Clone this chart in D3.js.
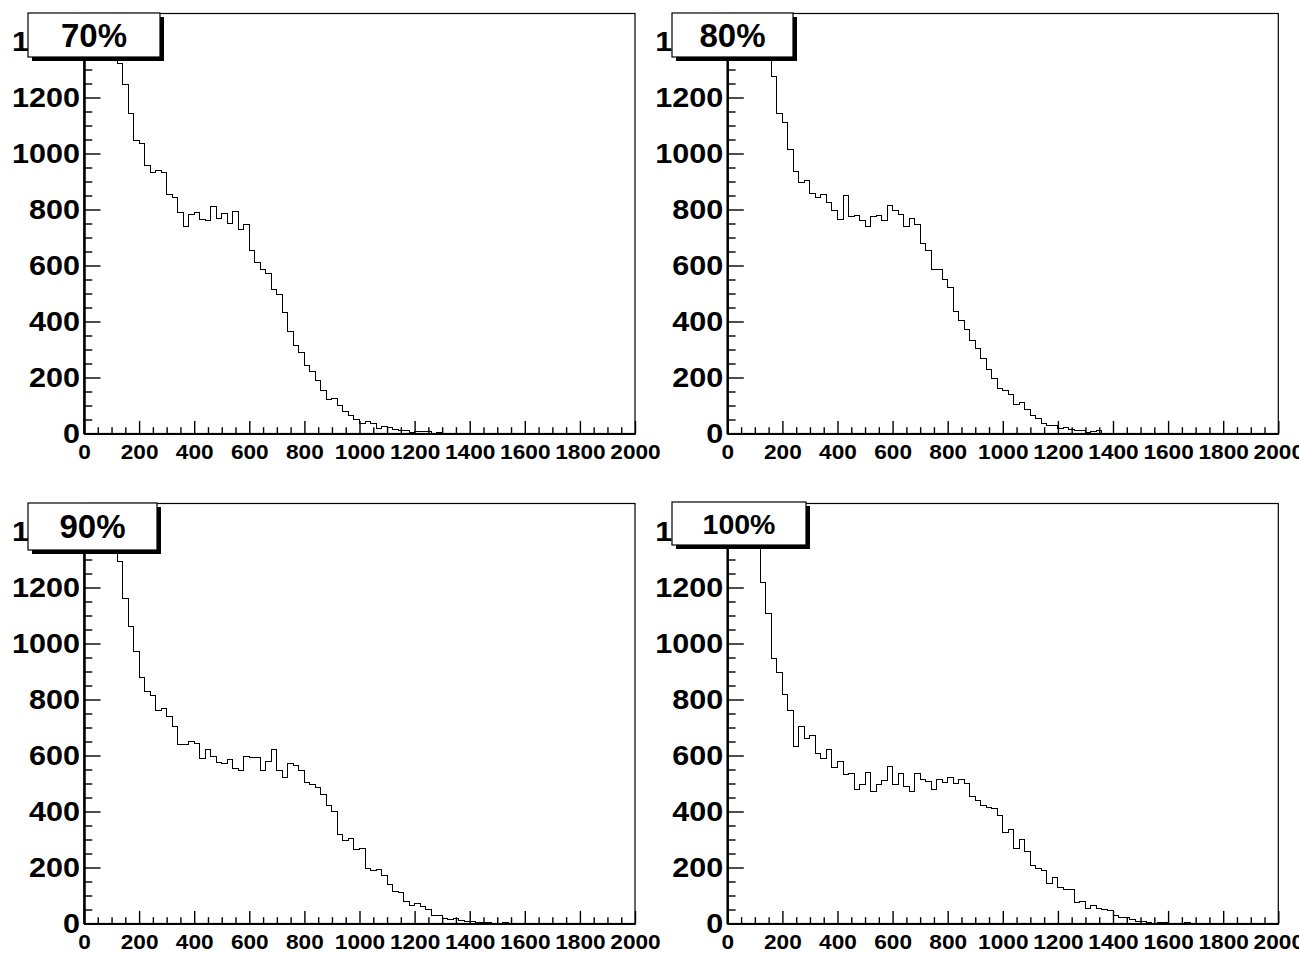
<!DOCTYPE html>
<html>
<head>
<meta charset="utf-8">
<script src="https://cdn.jsdelivr.net/npm/d3@7/dist/d3.min.js"></script>
<style>
  html, body { margin: 0; padding: 0; background: #fff; }
  svg { display: block; }
  text { font-family: "Liberation Sans", Arial, Helvetica, sans-serif; font-weight: bold; fill: #000; }
</style>
</head>
<body>
<svg id="canvas" width="1299" height="953"></svg>
<script>
// Histogram binning: 100 bins of width 20 between 0 and 2000
const binEdges = d3.range(0, 2001, 20);
const xMajorTicks = [0, 200, 400, 600, 800, 1000, 1200, 1400, 1600, 1800, 2000];
const yMajorTicks = [0, 200, 400, 600, 800, 1000, 1200, 1400];
const yRange = [0, 1500];

const titles = ["70%", "80%", "90%", "100%"];

// Bin contents, one list per threshold
const counts70 = [
  1820, 2240, 2150, 1930, 1710, 1540, 1322, 1247, 1143, 1046,
  1036, 956, 931, 941, 931, 852, 842, 790, 741, 782,
  788, 766, 762, 810, 768, 786, 750, 792, 727, 747,
  653, 611, 584, 570, 516, 495, 433, 364, 313, 291,
  242, 221, 191, 155, 120, 126, 99, 80, 66, 51,
  34, 42, 36, 19, 24, 22, 15, 10, 12, 4,
  7, 7, 7, 0, 4, 0, 0, 0, 0, 0,
  0, 0, 0, 0, 0, 0, 0, 0, 0, 0,
  0, 0, 0, 0, 0, 0, 0, 0, 0, 0,
  0, 0, 0, 0, 0, 0, 0, 0, 0, 0
];
const counts80 = [
  2050, 2480, 2390, 2160, 1950, 1760, 1590, 1420, 1274, 1143,
  1110, 1016, 935, 897, 905, 858, 842, 854, 826, 795,
  766, 849, 774, 780, 762, 739, 774, 780, 762, 814,
  795, 782, 741, 767, 745, 679, 655, 584, 586, 551,
  522, 437, 405, 373, 332, 302, 268, 227, 195, 159,
  152, 140, 104, 110, 84, 66, 52, 34, 30, 27,
  18, 22, 15, 10, 12, 4, 7, 10, 0, 0,
  0, 0, 0, 0, 0, 0, 0, 0, 0, 0,
  0, 0, 0, 0, 0, 0, 0, 0, 0, 0,
  0, 0, 0, 0, 0, 0, 0, 0, 0, 0
];
const counts90 = [
  1880, 2310, 2200, 1990, 1760, 1560, 1292, 1159, 1060, 973,
  878, 830, 816, 762, 768, 741, 703, 641, 638, 649,
  644, 588, 620, 596, 574, 570, 586, 554, 545, 598,
  592, 592, 548, 578, 620, 545, 521, 572, 563, 548,
  503, 498, 486, 459, 423, 399, 318, 298, 304, 263,
  268, 197, 189, 193, 171, 141, 114, 110, 78, 66,
  72, 60, 51, 27, 27, 19, 16, 17, 12, 6,
  6, 4, 4, 3, 1, 1, 3, 1, 0, 0,
  0, 0, 0, 0, 0, 0, 0, 0, 0, 0,
  0, 0, 0, 0, 0, 0, 0, 0, 0, 0
];
const counts100 = [
  1960, 2420, 2330, 2070, 1790, 1530, 1217, 1108, 947, 897,
  818, 762, 631, 703, 661, 673, 608, 590, 620, 556,
  578, 533, 536, 477, 495, 540, 471, 495, 509, 560,
  495, 536, 489, 471, 536, 514, 508, 477, 515, 503,
  522, 501, 516, 501, 453, 439, 421, 413, 409, 385,
  326, 334, 268, 301, 257, 207, 197, 191, 143, 164,
  129, 120, 123, 76, 78, 54, 63, 52, 51, 46,
  30, 21, 22, 16, 6, 6, 4, 1, 3, 3,
  1, 1, 1, 3, 1, 0, 0, 0, 0, 0,
  0, 0, 0, 0, 0, 0, 0, 0, 0, 0
];

const seriesList = [counts70, counts80, counts90, counts100];

// Pad layout (frame box and title box for each of the 2x2 pads)
const pads = [
  { fx: 84,    fy: 13.5,  box: { x: 28,  y: 13,  w: 132, h: 44 }, fs: 33 },
  { fx: 727.3, fy: 13.5,  box: { x: 672, y: 13,  w: 121, h: 44 }, fs: 33 },
  { fx: 84,    fy: 503.5, box: { x: 28,  y: 503, w: 129, h: 47 }, fs: 33 },
  { fx: 727.3, fy: 503.5, box: { x: 672, y: 502, w: 134, h: 43 }, fs: 28.5 }
];
const frameW = 551, frameH = 420;
const plain = d3.format("d");

const svg = d3.select("#canvas");
svg.append("rect").attr("width", 1299).attr("height", 953).attr("fill", "#fff");

pads.forEach((p, i) => {
  const counts = seriesList[i];
  const x = d3.scaleLinear().domain([binEdges[0], binEdges[binEdges.length - 1]]).range([0, frameW]);
  const y = d3.scaleLinear().domain(yRange).range([frameH, 0]);

  const g = svg.append("g").attr("transform", `translate(${p.fx},${p.fy})`);

  const clipId = "frameclip" + i;
  g.append("clipPath").attr("id", clipId)
    .append("rect").attr("x", 0).attr("y", 0).attr("width", frameW).attr("height", frameH);

  // Step outline of the histogram
  const path = d3.path();
  path.moveTo(x(binEdges[0]), y(0));
  counts.forEach((c, k) => {
    path.lineTo(x(binEdges[k]), y(c));
    path.lineTo(x(binEdges[k + 1]), y(c));
  });
  path.lineTo(x(binEdges[binEdges.length - 1]), y(0));

  g.append("path")
    .attr("d", path.toString())
    .attr("clip-path", `url(#${clipId})`)
    .attr("fill", "none")
    .attr("stroke", "#000")
    .attr("stroke-width", 1)
    .attr("shape-rendering", "crispEdges");

  // Frame
  g.append("rect")
    .attr("x", 0).attr("y", 0).attr("width", frameW).attr("height", frameH)
    .attr("fill", "none").attr("stroke", "#000").attr("stroke-width", 1.2);

  // X axis: minor ticks every 50, major every 200
  const xMinor = d3.range(0, 2001, 50).filter(v => v % 200 !== 0);
  const xAxisMinor = d3.axisBottom(x).tickValues(xMinor).tickSize(-6.3).tickSizeOuter(0).tickFormat("");
  const xAxisMajor = d3.axisBottom(x).tickValues(xMajorTicks).tickSize(-12.6).tickSizeOuter(0)
    .tickPadding(11).tickFormat(plain);
  const gxMinor = g.append("g").attr("transform", `translate(0,${frameH})`).call(xAxisMinor);
  const gx = g.append("g").attr("transform", `translate(0,${frameH})`).call(xAxisMajor);
  [gxMinor, gx].forEach(a => {
    a.select(".domain").attr("stroke", "#000").attr("stroke-width", 2);
    a.selectAll(".tick line").attr("stroke", "#000").attr("stroke-width", 1.4);
  });
  gx.selectAll(".tick text")
    .attr("font-size", 21)
    .attr("font-family", "Liberation Sans, Arial, sans-serif")
    .attr("font-weight", "bold")
    .attr("fill", "#000")
    .attr("textLength", d => plain(d).length * 12.6)
    .attr("lengthAdjust", "spacingAndGlyphs");

  // Y axis: minor ticks every 50, major every 200
  const yMinor = d3.range(0, 1501, 50).filter(v => v % 200 !== 0);
  const yAxisMinor = d3.axisLeft(y).tickValues(yMinor).tickSize(-8.3).tickSizeOuter(0).tickFormat("");
  const yAxisMajor = d3.axisLeft(y).tickValues(yMajorTicks).tickSize(-16.5).tickSizeOuter(0)
    .tickPadding(4).tickFormat(plain);
  const gyMinor = g.append("g").call(yAxisMinor);
  const gy = g.append("g").call(yAxisMajor);
  [gyMinor, gy].forEach(a => {
    a.select(".domain").attr("stroke", "#000").attr("stroke-width", 2);
    a.selectAll(".tick line").attr("stroke", "#000").attr("stroke-width", 1.4);
  });
  gy.selectAll(".tick text")
    .attr("font-size", 28)
    .attr("font-family", "Liberation Sans, Arial, sans-serif")
    .attr("font-weight", "bold")
    .attr("fill", "#000")
    .attr("textLength", d => plain(d).length * 17)
    .attr("lengthAdjust", "spacingAndGlyphs");

  // Title box with drop shadow
  const b = p.box;
  svg.append("rect")
    .attr("x", b.x + 4).attr("y", b.y + 4).attr("width", b.w).attr("height", b.h)
    .attr("fill", "#000");
  svg.append("rect")
    .attr("x", b.x).attr("y", b.y).attr("width", b.w).attr("height", b.h)
    .attr("fill", "#fff").attr("stroke", "#000").attr("stroke-width", 1.2);
  svg.append("text")
    .attr("x", b.x + b.w / 2)
    .attr("y", b.y + b.h / 2)
    .attr("text-anchor", "middle")
    .attr("dominant-baseline", "central")
    .attr("font-size", p.fs)
    .text(titles[i]);
});
</script>
</body>
</html>
